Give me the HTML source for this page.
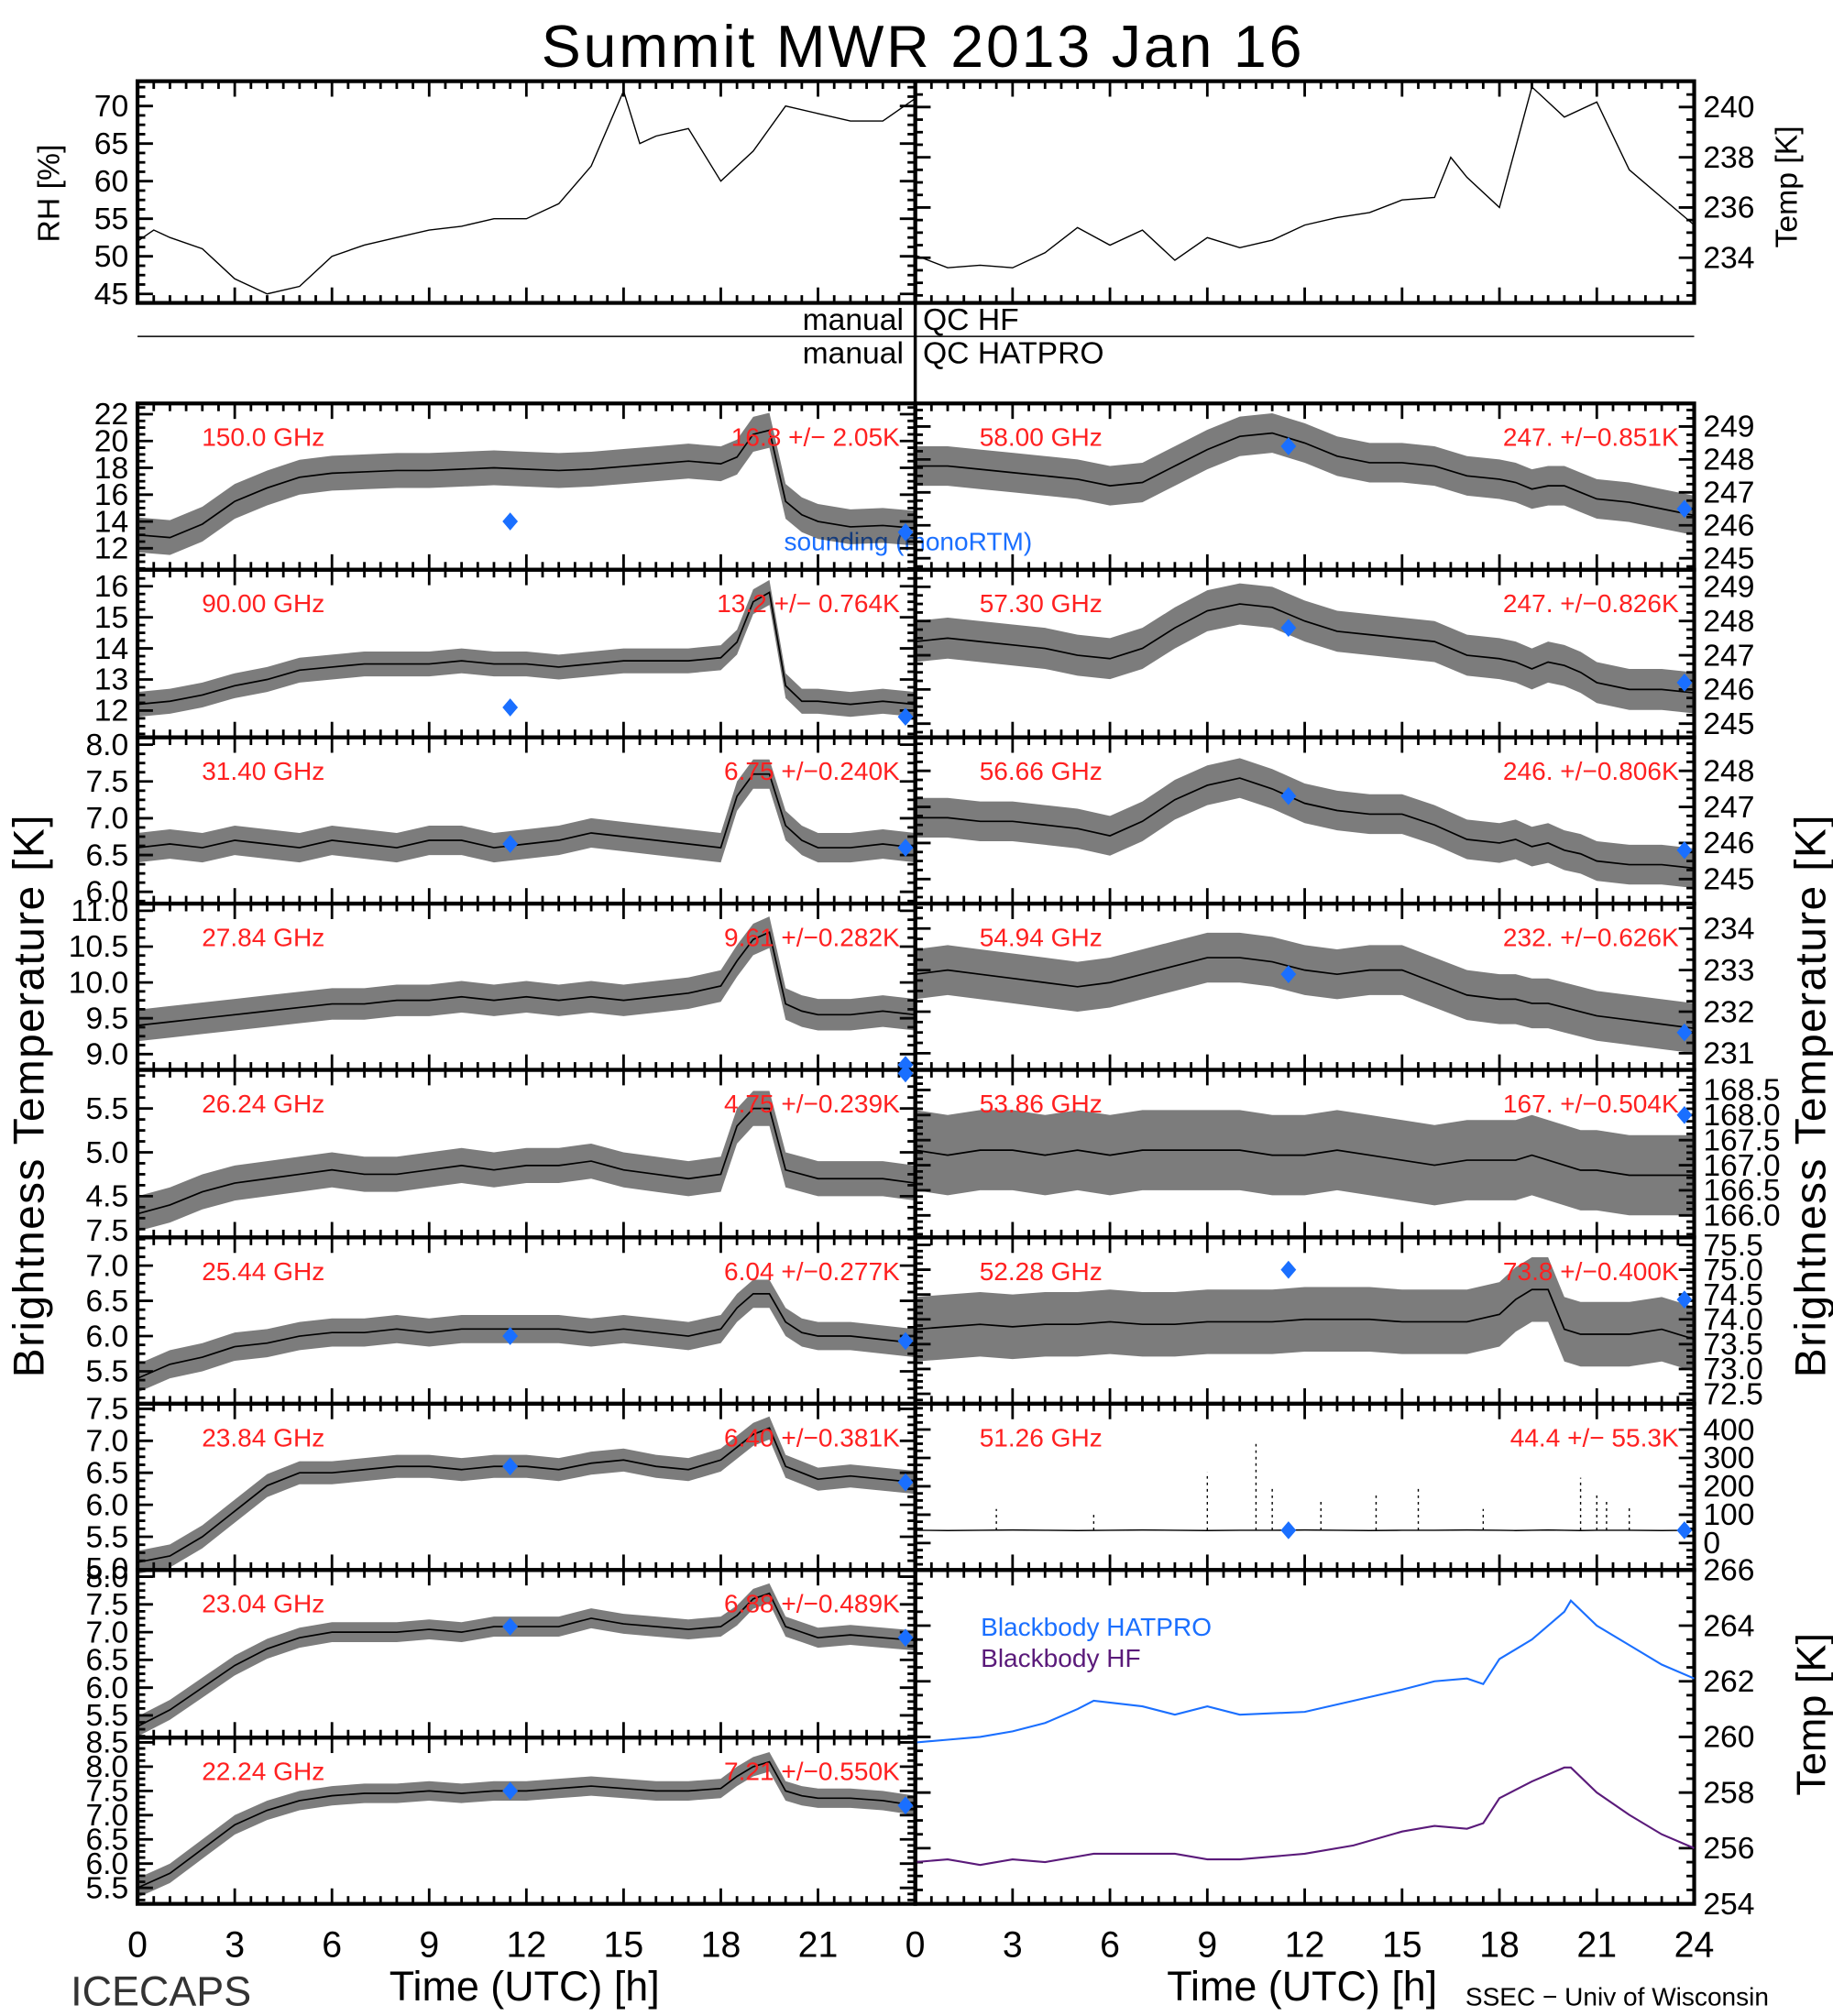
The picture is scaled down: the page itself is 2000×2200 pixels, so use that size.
<!DOCTYPE html>
<html><head><meta charset="utf-8"><title>Summit MWR 2013 Jan 16</title>
<style>html,body{margin:0;padding:0;background:#fff}svg{display:block}text{font-family:"Liberation Sans",sans-serif}</style>
</head><body>
<svg id="chart" width="2000" height="2200" viewBox="0 0 1426 1564" preserveAspectRatio="none" xmlns="http://www.w3.org/2000/svg">
<rect x="0" y="0" width="1426" height="1564" fill="#fff"/>
<text x="718" y="52" font-size="46" text-anchor="middle" fill="#000" letter-spacing="2">Summit  MWR  2013  Jan  16</text>
<line x1="107" y1="261" x2="1318" y2="261" stroke="#000" stroke-width="1"/>
<line x1="712" y1="235" x2="712" y2="313" stroke="#000" stroke-width="2.5"/>
<text x="703" y="256" font-size="24" text-anchor="end">manual</text>
<text x="718" y="256" font-size="24">QC  HF</text>
<text x="703" y="282" font-size="24" text-anchor="end">manual</text>
<text x="718" y="282" font-size="24">QC  HATPRO</text>
<text transform="translate(46,150) rotate(-90)" font-size="24" text-anchor="middle">RH [%]</text>
<text transform="translate(1398,145) rotate(-90)" font-size="24" text-anchor="middle">Temp [K]</text>
<text transform="translate(34,850) rotate(-90)" font-size="34" text-anchor="middle" letter-spacing="1">Brightness  Temperature  [K]</text>
<text transform="translate(1420,850) rotate(-90)" font-size="34" text-anchor="middle" letter-spacing="1">Brightness  Temperature  [K]</text>
<text transform="translate(1420,1330) rotate(-90)" font-size="32" text-anchor="middle">Temp  [K]</text>
<text x="408" y="1552" font-size="32" text-anchor="middle">Time (UTC) [h]</text>
<text x="1013" y="1552" font-size="32" text-anchor="middle">Time (UTC) [h]</text>
<text x="55" y="1556" font-size="32" fill="#333">ICECAPS</text>
<text x="1140" y="1556" font-size="20">SSEC − Univ of Wisconsin</text>
<text x="610" y="427" font-size="20" fill="#1a6fff">sounding (monoRTM)</text>
<text x="763" y="1269" font-size="20" fill="#1a6fff">Blackbody HATPRO</text>
<text x="763" y="1293" font-size="20" fill="#5a1a7a">Blackbody HF</text>
</svg>
<script>
const HOURS = [0,1,2,3,4,5,6,7,8,9,10,11,12,13,14,15,16,17,18,18.5,19,19.5,20,20.5,21,22,23,24];
const L1 = [13,12.8,13.8,15.5,16.5,17.3,17.6,17.7,17.8,17.8,17.9,18,17.9,17.8,17.9,18.1,18.3,18.5,18.3,18.8,20.5,20.8,15.5,14.5,14,13.6,13.7,13.5];
const L2 = [12.2,12.3,12.5,12.8,13,13.3,13.4,13.5,13.5,13.5,13.6,13.5,13.5,13.4,13.5,13.6,13.6,13.6,13.7,14.2,15.5,15.8,12.8,12.3,12.3,12.2,12.3,12.2];
const L3 = [6.6,6.65,6.6,6.7,6.65,6.6,6.7,6.65,6.6,6.7,6.7,6.6,6.65,6.7,6.8,6.75,6.7,6.65,6.6,7.3,7.6,7.6,6.9,6.7,6.6,6.6,6.65,6.6];
const L4 = [9.4,9.45,9.5,9.55,9.6,9.65,9.7,9.7,9.75,9.75,9.8,9.75,9.8,9.75,9.8,9.75,9.8,9.85,9.95,10.3,10.6,10.7,9.7,9.6,9.55,9.55,9.6,9.55];
const L5 = [4.3,4.4,4.55,4.65,4.7,4.75,4.8,4.75,4.75,4.8,4.85,4.8,4.85,4.85,4.9,4.8,4.75,4.7,4.75,5.3,5.5,5.5,4.8,4.75,4.7,4.7,4.7,4.65];
const L6 = [5.4,5.6,5.7,5.85,5.9,6.0,6.05,6.05,6.1,6.05,6.1,6.1,6.1,6.1,6.05,6.1,6.05,6.0,6.1,6.4,6.6,6.6,6.2,6.05,6.0,6.0,5.95,5.9];
const L7 = [5.1,5.2,5.5,5.9,6.3,6.5,6.5,6.55,6.6,6.6,6.55,6.6,6.6,6.55,6.65,6.7,6.6,6.55,6.7,6.9,7.1,7.2,6.6,6.5,6.4,6.45,6.4,6.35];
const L8 = [5.3,5.6,6.0,6.4,6.7,6.9,7.0,7.0,7.0,7.05,7.0,7.1,7.1,7.1,7.25,7.15,7.1,7.05,7.1,7.3,7.6,7.7,7.1,7.0,6.9,6.95,6.9,6.85];
const L9 = [5.5,5.8,6.3,6.8,7.1,7.3,7.4,7.45,7.45,7.5,7.45,7.5,7.5,7.55,7.6,7.55,7.5,7.5,7.55,7.8,8.0,8.1,7.5,7.4,7.35,7.35,7.3,7.2];
const R1 = [247.8,247.8,247.7,247.6,247.5,247.4,247.2,247.3,247.8,248.3,248.7,248.8,248.5,248.1,247.9,247.9,247.8,247.5,247.4,247.3,247.1,247.2,247.2,247.0,246.8,246.7,246.5,246.3];
const R2 = [247.4,247.5,247.4,247.3,247.2,247.0,246.9,247.2,247.8,248.3,248.5,248.4,248.0,247.7,247.6,247.5,247.4,247.0,246.9,246.8,246.6,246.8,246.7,246.5,246.2,246.0,246.0,245.9];
const R3 = [246.7,246.7,246.6,246.6,246.5,246.4,246.2,246.6,247.2,247.6,247.8,247.5,247.1,246.9,246.8,246.8,246.5,246.1,246.0,246.1,245.9,246.0,245.8,245.7,245.5,245.4,245.4,245.3];
const R4 = [232.9,233.0,232.9,232.8,232.7,232.6,232.7,232.9,233.1,233.3,233.3,233.2,233.0,232.9,233.0,233.0,232.7,232.4,232.3,232.3,232.2,232.2,232.1,232.0,231.9,231.8,231.7,231.6];
const R5 = [167.3,167.2,167.3,167.3,167.2,167.3,167.2,167.3,167.3,167.3,167.3,167.2,167.2,167.3,167.2,167.1,167.0,167.1,167.1,167.1,167.2,167.1,167.0,166.9,166.9,166.8,166.8,166.8];
const R6 = [73.8,73.85,73.9,73.85,73.9,73.9,73.95,73.9,73.9,73.95,73.95,73.95,74.0,74.0,74.0,73.95,73.95,73.95,74.1,74.4,74.6,74.6,73.8,73.7,73.7,73.7,73.8,73.6];
const R7 = [45,44,45,46,45,44,45,46,45,44,45,45,46,45,44,45,45,46,45,44,45,46,45,44,45,45,44,45];
const R7_SPIKE_HOURS = [2.5,5.5,9,10.5,11,12.5,14.2,15.5,17.5,20.5,21,21.3,22];
const R7_SPIKE_VALUES = [120,100,250,350,200,150,180,200,120,230,180,150,130];
const BB_HOURS = [0,1,2,3,4,5,5.5,7,8,9,10,12,13.5,15,16,17,17.5,18,19,20,20.2,21,22,23,24];
const BB_HATPRO = [259.8,259.9,260.0,260.2,260.5,261.0,261.3,261.1,260.8,261.1,260.8,260.9,261.3,261.7,262.0,262.1,261.9,262.8,263.5,264.5,264.9,264.0,263.3,262.6,262.1];
const BB_HF = [255.5,255.6,255.4,255.6,255.5,255.7,255.8,255.8,255.8,255.6,255.6,255.8,256.1,256.6,256.8,256.7,256.9,257.8,258.4,258.9,258.9,258.0,257.2,256.5,256.0];
const RH_HOURS = [0,0.5,1,2,3,4,5,6,7,8,9,10,11,12,13,14,15,15.5,16,17,18,19,20,21,22,23,24];
const RH_VALUES = [52,53.5,52.5,51,47,45,46,50,51.5,52.5,53.5,54,55,55,57,62,72,65,66,67,60,64,70,69,68,68,71];
const TMP_HOURS = [0,1,2,3,4,5,6,7,8,9,10,11,12,13,14,15,16,16.5,17,18,19,20,21,22,23,24];
const TMP_VALUES = [234.1,233.6,233.7,233.6,234.2,235.2,234.5,235.1,233.9,234.8,234.4,234.7,235.3,235.6,235.8,236.3,236.4,238.0,237.2,236.0,240.8,239.6,240.2,237.5,236.4,235.3];
const Y_TICKS = {
 L1:[12,14,16,18,20,22], L2:[12,13,14,15,16], L3:[6.0,6.5,7.0,7.5,8.0], L4:[9.0,9.5,10.0,10.5,11.0],
 L5:[4.5,5.0,5.5], L6:[5.5,6.0,6.5,7.0,7.5], L7:[5.0,5.5,6.0,6.5,7.0,7.5], L8:[5.5,6.0,6.5,7.0,7.5,8.0],
 L9:[5.5,6.0,6.5,7.0,7.5,8.0,8.5], R1:[245,246,247,248,249], R2:[245,246,247,248,249], R3:[245,246,247,248],
 R4:[231,232,233,234], R5:[166.0,166.5,167.0,167.5,168.0,168.5], R6:[72.5,73.0,73.5,74.0,74.5,75.0,75.5],
 R7:[0,100,200,300,400], R8:[254,256,258,260,262,264,266], RH:[45,50,55,60,65,70], TMP:[234,236,238,240]
};
const X_TICK_LABELS_LEFT = [0,3,6,9,12,15,18,21];
const X_TICK_LABELS_RIGHT = [0,3,6,9,12,15,18,21,24];

const svg = document.getElementById('chart');
const NS = 'http://www.w3.org/2000/svg';
function mk(tag, attrs, parent){ const e=document.createElementNS(NS,tag); for(const k in attrs) e.setAttribute(k,attrs[k]); (parent||svg).appendChild(e); return e; }
function fmt(v, dec){ return dec ? v.toFixed(dec) : String(v); }

const ROWS = [313,442,572,701,830,960,1089,1218,1348,1477];
function xs(t, x0, x1){ return x0 + t/24*(x1-x0); }

function frame(x0,y0,x1,y1,ticks,vmin,vmax,dec,side,name){
  const g = mk('g',{});
  
  
  const ys = v => y1 - (v-vmin)/(vmax-vmin)*(y1-y0);
  for(let k=0;k<=48;k++){
    const t=k*0.5, x=xs(t,x0,x1), L=(k%6===0)?12:6;
    mk('line',{x1:x,y1:y0,x2:x,y2:y0+L,stroke:'#000','stroke-width':2},g);
    mk('line',{x1:x,y1:y1,x2:x,y2:y1-L,stroke:'#000','stroke-width':2},g);
  }
  const step = ticks[1]-ticks[0];
  const minor = step/4;
  const start = Math.ceil(vmin/minor)*minor;
  for(let v=start; v<=vmax+1e-9; v+=minor){
    const y=ys(v); if(y<y0+1||y>y1-1) continue;
    const isMaj = Math.abs(((v-ticks[0])/step)-Math.round((v-ticks[0])/step))<1e-6;
    const L=isMaj?12:6;
    mk('line',{x1:x0,y1:y,x2:x0+L,y2:y,stroke:'#000','stroke-width':2},g);
    mk('line',{x1:x1,y1:y,x2:x1-L,y2:y,stroke:'#000','stroke-width':2},g);
  }
  ticks.forEach(v=>{
    const y=ys(v);
    const t = mk('text',{x: side==='left'? x0-7 : x1+7, y:y+8, 'font-size':24, 'text-anchor': side==='left'?'end':'start'},g);
    
    
    t.textContent = fmt(v,dec);
  });
  mk('rect',{x:x0,y:y0,width:x1-x0,height:y1-y0,fill:'none',stroke:'#000','stroke-width':3},g);
  return ys;
}

function band(hours, mean, amp, x0,x1,ys, name){
  const up = hours.map((t,i)=>xs(t,x0,x1)+','+ys(mean[i]+amp));
  const dn = hours.map((t,i)=>xs(t,x0,x1)+','+ys(mean[i]-amp)).reverse();
  const p = mk('polygon',{points:up.concat(dn).join(' '),fill:'#111','fill-opacity':0.55});
  
  
  const l = mk('polyline',{points:hours.map((t,i)=>xs(t,x0,x1)+','+ys(mean[i])).join(' '),fill:'none',stroke:'#000','stroke-width':1.2});
  
  
}

function diamond(t,v,x0,x1,ys,name){
  const x=xs(t,x0,x1), y=ys(v);
  const d = mk('polygon',{points:`${x},${y-7} ${x+6},${y} ${x},${y+7} ${x-6},${y}`,fill:'#1a6fff'});
  
  
}

const PANELS = [
 {id:'L1',side:'left',row:0,vmin:10.4,vmax:22.8,dec:0,mean:L1,amp:1.3,f:'150.0 GHz',s:'16.8 +/−  2.05K',dia:[[11.5,14.0],[23.7,13.2]]},
 {id:'L2',side:'left',row:1,vmin:11.14,vmax:16.53,dec:0,mean:L2,amp:0.4,f:'90.00 GHz',s:'13.2 +/− 0.764K',dia:[[11.5,12.1],[23.7,11.8]]},
 {id:'L3',side:'left',row:2,vmin:5.84,vmax:8.1,dec:1,mean:L3,amp:0.2,f:'31.40 GHz',s:'6.75 +/−0.240K',dia:[[11.5,6.65],[23.7,6.6]]},
 {id:'L4',side:'left',row:3,vmin:8.78,vmax:11.1,dec:1,mean:L4,amp:0.22,f:'27.84 GHz',s:'9.61 +/−0.282K',dia:[[23.7,8.85]]},
 {id:'L5',side:'left',row:4,vmin:4.03,vmax:5.94,dec:1,mean:L5,amp:0.2,f:'26.24 GHz',s:'4.75 +/−0.239K',dia:[[23.7,5.9]]},
 {id:'L6',side:'left',row:5,vmin:5.04,vmax:7.4,dec:1,mean:L6,amp:0.2,f:'25.44 GHz',s:'6.04 +/−0.277K',dia:[[11.5,6.0],[23.7,5.93]]},
 {id:'L7',side:'left',row:6,vmin:4.98,vmax:7.58,dec:1,mean:L7,amp:0.18,f:'23.84 GHz',s:'6.40 +/−0.381K',dia:[[11.5,6.6],[23.7,6.35]]},
 {id:'L8',side:'left',row:7,vmin:5.1,vmax:8.12,dec:1,mean:L8,amp:0.18,f:'23.04 GHz',s:'6.88 +/−0.489K',dia:[[11.5,7.1],[23.7,6.9]]},
 {id:'L9',side:'left',row:8,vmin:5.17,vmax:8.6,dec:1,mean:L9,amp:0.2,f:'22.24 GHz',s:'7.21 +/−0.550K',dia:[[11.5,7.5],[23.7,7.2]]},
 {id:'R1',side:'right',row:0,vmin:244.65,vmax:249.7,dec:0,mean:R1,amp:0.6,f:'58.00 GHz',s:'247. +/−0.851K',dia:[[11.5,248.4],[23.7,246.5]]},
 {id:'R2',side:'right',row:1,vmin:244.6,vmax:249.5,dec:0,mean:R2,amp:0.6,f:'57.30 GHz',s:'247. +/−0.826K',dia:[[11.5,247.8],[23.7,246.2]]},
 {id:'R3',side:'right',row:2,vmin:244.32,vmax:248.93,dec:0,mean:R3,amp:0.55,f:'56.66 GHz',s:'246. +/−0.806K',dia:[[11.5,247.3],[23.7,245.8]]},
 {id:'R4',side:'right',row:3,vmin:230.6,vmax:234.6,dec:0,mean:R4,amp:0.6,f:'54.94 GHz',s:'232. +/−0.626K',dia:[[11.5,232.9],[23.7,231.5]]},
 {id:'R5',side:'right',row:4,vmin:165.56,vmax:168.9,dec:1,mean:R5,amp:0.8,f:'53.86 GHz',s:'167. +/−0.504K',dia:[[23.7,168.0]]},
 {id:'R6',side:'right',row:5,vmin:72.3,vmax:75.65,dec:1,mean:R6,amp:0.65,f:'52.28 GHz',s:'73.8 +/−0.400K',dia:[[11.5,75.0],[23.7,74.4]]},
 {id:'R7',side:'right',row:6,vmin:-95,vmax:491,dec:0,mean:R7,amp:6,f:'51.26 GHz',s:'44.4 +/− 55.3K',dia:[[11.5,45],[23.7,45]]}
];

PANELS.forEach(p=>{
  const x0 = p.side==='left'?107:712, x1 = p.side==='left'?712:1318;
  const y0 = ROWS[p.row], y1 = ROWS[p.row+1];
  const g = mk('g',{});
  
  
  const ys = frame(x0,y0,x1,y1,Y_TICKS[p.id],p.vmin,p.vmax,p.dec,p.side,p.id);
  if(p.id==='R7'){
    const l = mk('polyline',{points:HOURS.map((t,i)=>xs(t,x0,x1)+','+ys(p.mean[i])).join(' '),fill:'none',stroke:'#000','stroke-width':1});
    
    
    R7_SPIKE_HOURS.forEach((t,i)=>{
      const x=xs(t,x0,x1);
      const s = mk('line',{x1:x,y1:ys(45),x2:x,y2:ys(R7_SPIKE_VALUES[i]),stroke:'#000','stroke-width':1,'stroke-dasharray':'2,3'});
      
      
    });
  } else {
    band(HOURS,p.mean,p.amp,x0,x1,ys,p.id);
  }
  p.dia.forEach(d=>diamond(d[0],d[1],x0,x1,ys,p.id));
  const ft = mk('text',{x:x0+50,y:y0+33,'font-size':20,fill:'#ff2020'});
  
  
  ft.textContent = p.f;
  const st = mk('text',{x:x1-12,y:y0+33,'font-size':20,fill:'#ff2020','text-anchor':'end'});
  
  
  st.textContent = p.s;
});

(function(){
  const x0=712,x1=1318,y0=1218,y1=1477;
  const ys = frame(x0,y0,x1,y1,Y_TICKS.R8,254,266,0,'right','R8');
  const a = mk('polyline',{points:BB_HOURS.map((t,i)=>xs(t,x0,x1)+','+ys(BB_HATPRO[i])).join(' '),fill:'none',stroke:'#1a6fff','stroke-width':1.5});
  
  
  const b = mk('polyline',{points:BB_HOURS.map((t,i)=>xs(t,x0,x1)+','+ys(BB_HF[i])).join(' '),fill:'none',stroke:'#5a1a7a','stroke-width':1.5});
  
  
})();

(function(){
  const ysL = frame(107,63,712,235,Y_TICKS.RH,43.8,73.3,0,'left','RH');
  const l = mk('polyline',{points:RH_HOURS.map((t,i)=>xs(t,107,712)+','+ysL(RH_VALUES[i])).join(' '),fill:'none',stroke:'#000','stroke-width':1});
  
  
  const ysR = frame(712,63,1318,235,Y_TICKS.TMP,232.2,241.03,0,'right','TMP');
  const r = mk('polyline',{points:TMP_HOURS.map((t,i)=>xs(t,712,1318)+','+ysR(TMP_VALUES[i])).join(' '),fill:'none',stroke:'#000','stroke-width':1});
  
  
})();

const dv = mk('line',{x1:712,y1:313,x2:712,y2:1477,stroke:'#000','stroke-width':3});



X_TICK_LABELS_LEFT.forEach(v=>{
  const t = mk('text',{x:xs(v,107,712),y:1518,'font-size':28,'text-anchor':'middle'});
  
  
  t.textContent = v;
});
X_TICK_LABELS_RIGHT.forEach(v=>{
  const t = mk('text',{x:xs(v,712,1318),y:1518,'font-size':28,'text-anchor':'middle'});
  
  
  t.textContent = v;
});
</script>
</body></html>
